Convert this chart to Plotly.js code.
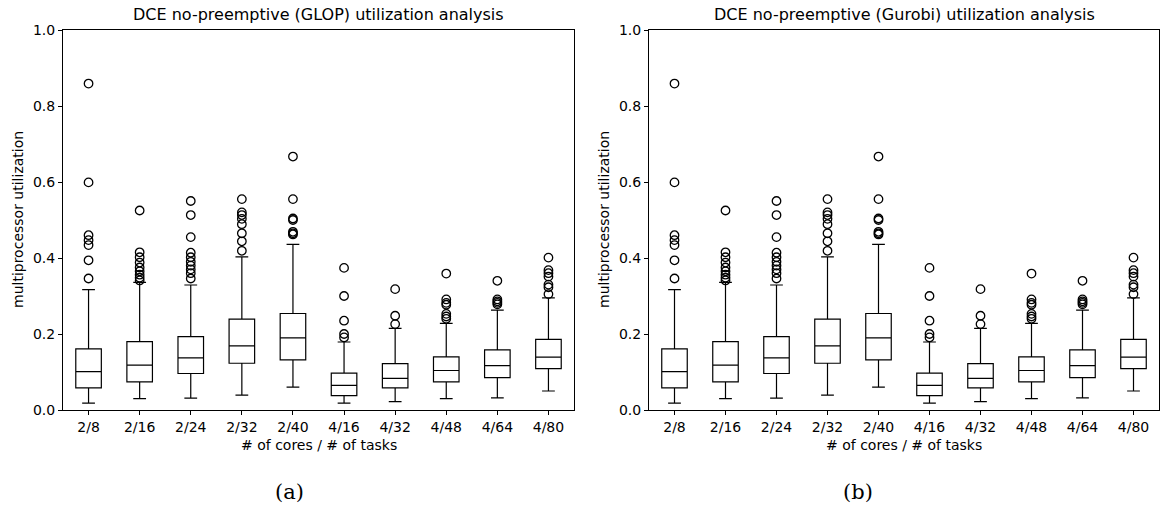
<!DOCTYPE html>
<html>
<head>
<meta charset="utf-8">
<script src="https://cdn.plot.ly/plotly-3.0.1.min.js"></script>
<style>html,body{margin:0;padding:0;background:#fff;}#chart{width:1161px;height:513px;}</style>
</head>
<body>
<div id="chart"></div>
<script>
// ---- data (both panels show the same distributions) ----
const categories = ["2/8","2/16","2/24","2/32","2/40","4/16","4/32","4/48","4/64","4/80"];
const lowerWhisker = [0.018, 0.030, 0.031, 0.039, 0.060, 0.018, 0.022, 0.030, 0.032, 0.050];
const q1Values     = [0.058, 0.074, 0.096, 0.123, 0.132, 0.038, 0.058, 0.074, 0.085, 0.109];
const medianValues = [0.101, 0.118, 0.137, 0.169, 0.190, 0.065, 0.083, 0.104, 0.117, 0.139];
const q3Values     = [0.161, 0.180, 0.193, 0.239, 0.254, 0.097, 0.122, 0.140, 0.158, 0.186];
const upperWhisker = [0.317, 0.336, 0.329, 0.403, 0.436, 0.179, 0.215, 0.228, 0.263, 0.295];
const outliers = [
  [0.859, 0.599, 0.460, 0.447, 0.434, 0.394, 0.346],
  [0.525, 0.415, 0.402, 0.388, 0.375, 0.365, 0.356, 0.348, 0.341],
  [0.550, 0.513, 0.455, 0.414, 0.402, 0.390, 0.380, 0.370, 0.360, 0.346],
  [0.555, 0.520, 0.513, 0.503, 0.489, 0.465, 0.444, 0.419],
  [0.667, 0.555, 0.504, 0.500, 0.469, 0.465, 0.462],
  [0.374, 0.300, 0.235, 0.200, 0.191],
  [0.318, 0.248, 0.226],
  [0.359, 0.291, 0.282, 0.277, 0.253, 0.246, 0.240],
  [0.340, 0.291, 0.286, 0.282, 0.278],
  [0.401, 0.368, 0.360, 0.351, 0.330, 0.323, 0.305]
];
const panelTitles = ["DCE no-preemptive (GLOP) utilization analysis", "DCE no-preemptive (Gurobi) utilization analysis"];
const panelLabels = ["(a)", "(b)"];
const yTicks = [0, 0.2, 0.4, 0.6, 0.8, 1.0];
const yTickText = ["0.0", "0.2", "0.4", "0.6", "0.8", "1.0"];

// ---- build traces ----
const W = 1161, H = 513;
const FONT = "DejaVu Sans, sans-serif";
const panels = [
  {x0: 63, x1: 574, xa: "x", ya: "y", labelX: 289},
  {x0: 649, x1: 1159, xa: "x2", ya: "y2", labelX: 858}
];
const yTop = 30, yBot = 410;

const traces = [];
panels.forEach(p => {
  traces.push({
    type: "box",
    x: categories,
    q1: q1Values, median: medianValues, q3: q3Values,
    lowerfence: lowerWhisker, upperfence: upperWhisker,
    boxpoints: false,
    width: 0.5,
    whiskerwidth: 0.5,
    fillcolor: "rgba(255,255,255,0)",
    line: {color: "black", width: 1.2},
    xaxis: p.xa, yaxis: p.ya,
    showlegend: false, hoverinfo: "skip"
  });
  const ox = [], oy = [];
  outliers.forEach((arr, i) => arr.forEach(v => { ox.push(categories[i]); oy.push(v); }));
  traces.push({
    type: "scatter", mode: "markers",
    x: ox, y: oy,
    marker: {symbol: "circle-open", size: 8.5, color: "black", line: {width: 1.3, color: "black"}},
    xaxis: p.xa, yaxis: p.ya,
    showlegend: false, hoverinfo: "skip"
  });
});

function xAxis(p, anchor) {
  return {
    type: "category", range: [-0.5, 9.5],
    domain: [p.x0 / W, p.x1 / W], anchor: anchor,
    showline: true, mirror: true, linecolor: "black", linewidth: 1,
    ticks: "outside", ticklen: 4, tickcolor: "black", tickwidth: 1,
    tickfont: {family: FONT, size: 14, color: "black"},
    showgrid: false, zeroline: false, fixedrange: true
  };
}
function yAxis(anchor) {
  return {
    range: [0, 1], domain: [1 - yBot / H, 1 - yTop / H], anchor: anchor,
    tickvals: yTicks, ticktext: yTickText,
    showline: true, mirror: true, linecolor: "black", linewidth: 1,
    ticks: "outside", ticklen: 4, tickcolor: "black", tickwidth: 1,
    tickfont: {family: FONT, size: 14, color: "black"},
    showgrid: false, zeroline: false, fixedrange: true
  };
}

const annotations = [];
panels.forEach((p, i) => {
  const cx = (p.x0 + p.x1) / 2;
  annotations.push({text: panelTitles[i], x: cx / W, y: 1 - 15 / H, xref: "paper", yref: "paper",
    xanchor: "center", yanchor: "middle", showarrow: false, font: {family: FONT, size: 16, color: "black"}});
  annotations.push({text: "# of cores / # of tasks", x: cx / W, y: 1 - 445 / H, xref: "paper", yref: "paper",
    xanchor: "center", yanchor: "middle", showarrow: false, font: {family: FONT, size: 14, color: "black"}});
  annotations.push({text: "multiprocessor utilization", x: (p.x0 - 45) / W, y: 1 - 220 / H, xref: "paper", yref: "paper",
    xanchor: "center", yanchor: "middle", textangle: -90, showarrow: false, font: {family: FONT, size: 14, color: "black"}});
  annotations.push({text: panelLabels[i], x: p.labelX / W, y: 1 - 492 / H, xref: "paper", yref: "paper",
    xanchor: "center", yanchor: "middle", showarrow: false, font: {family: "DejaVu Serif, serif", size: 21, color: "black"}});
});

const layout = {
  width: W, height: H,
  margin: {l: 0, r: 0, t: 0, b: 0},
  paper_bgcolor: "white", plot_bgcolor: "white",
  showlegend: false,
  xaxis: xAxis(panels[0], "y"), yaxis: yAxis("x"),
  xaxis2: xAxis(panels[1], "y2"), yaxis2: yAxis("x2"),
  annotations: annotations,
  boxmode: "overlay"
};

Plotly.newPlot("chart", traces, layout, {staticPlot: true, displayModeBar: false});
</script>
</body>
</html>
